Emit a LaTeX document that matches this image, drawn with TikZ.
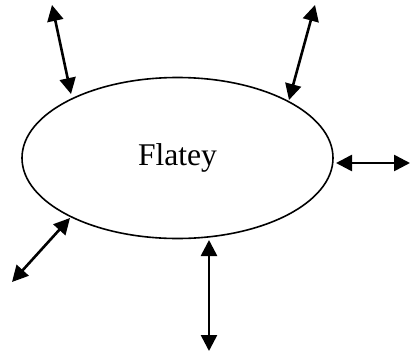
\documentclass[tikz,border=0pt]{standalone}
\usepackage{fontspec}
\setmainfont{Liberation Serif}
\usetikzlibrary{shapes.geometric,arrows.meta}
\begin{document}
\begin{tikzpicture}[x=1pt,y=-1pt,
  island/.style={draw,ellipse,line width=1.6pt,minimum width=311pt,minimum height=161pt,inner sep=0pt,font=\fontsize{31.6}{36}\selectfont},
  link/.style={line width=2.6pt,{Triangle[length=16pt 0 0,width=16pt 0 0]}-{Triangle[length=16pt 0 0,width=16pt 0 0]}}]
\useasboundingbox (0,0) rectangle (411,353);
\node[island] (e) at (177.5,158) {Flatey};
\coordinate (a1) at (52,5);   \coordinate (b1) at (71,94);
\coordinate (a2) at (315,5);  \coordinate (b2) at (289,100);
\coordinate (a3) at (410,163);\coordinate (b3) at (336,163);
\coordinate (a4) at (12,282); \coordinate (b4) at (70,218);
\coordinate (a5) at (209,351);\coordinate (b5) at (209,240);
\draw[link] (a1) -- (b1);
\draw[link] (a2) -- (b2);
\draw[link] (a3) -- (b3);
\draw[link] (a4) -- (b4);
\draw[link] (a5) -- (b5);
\end{tikzpicture}
\end{document}
